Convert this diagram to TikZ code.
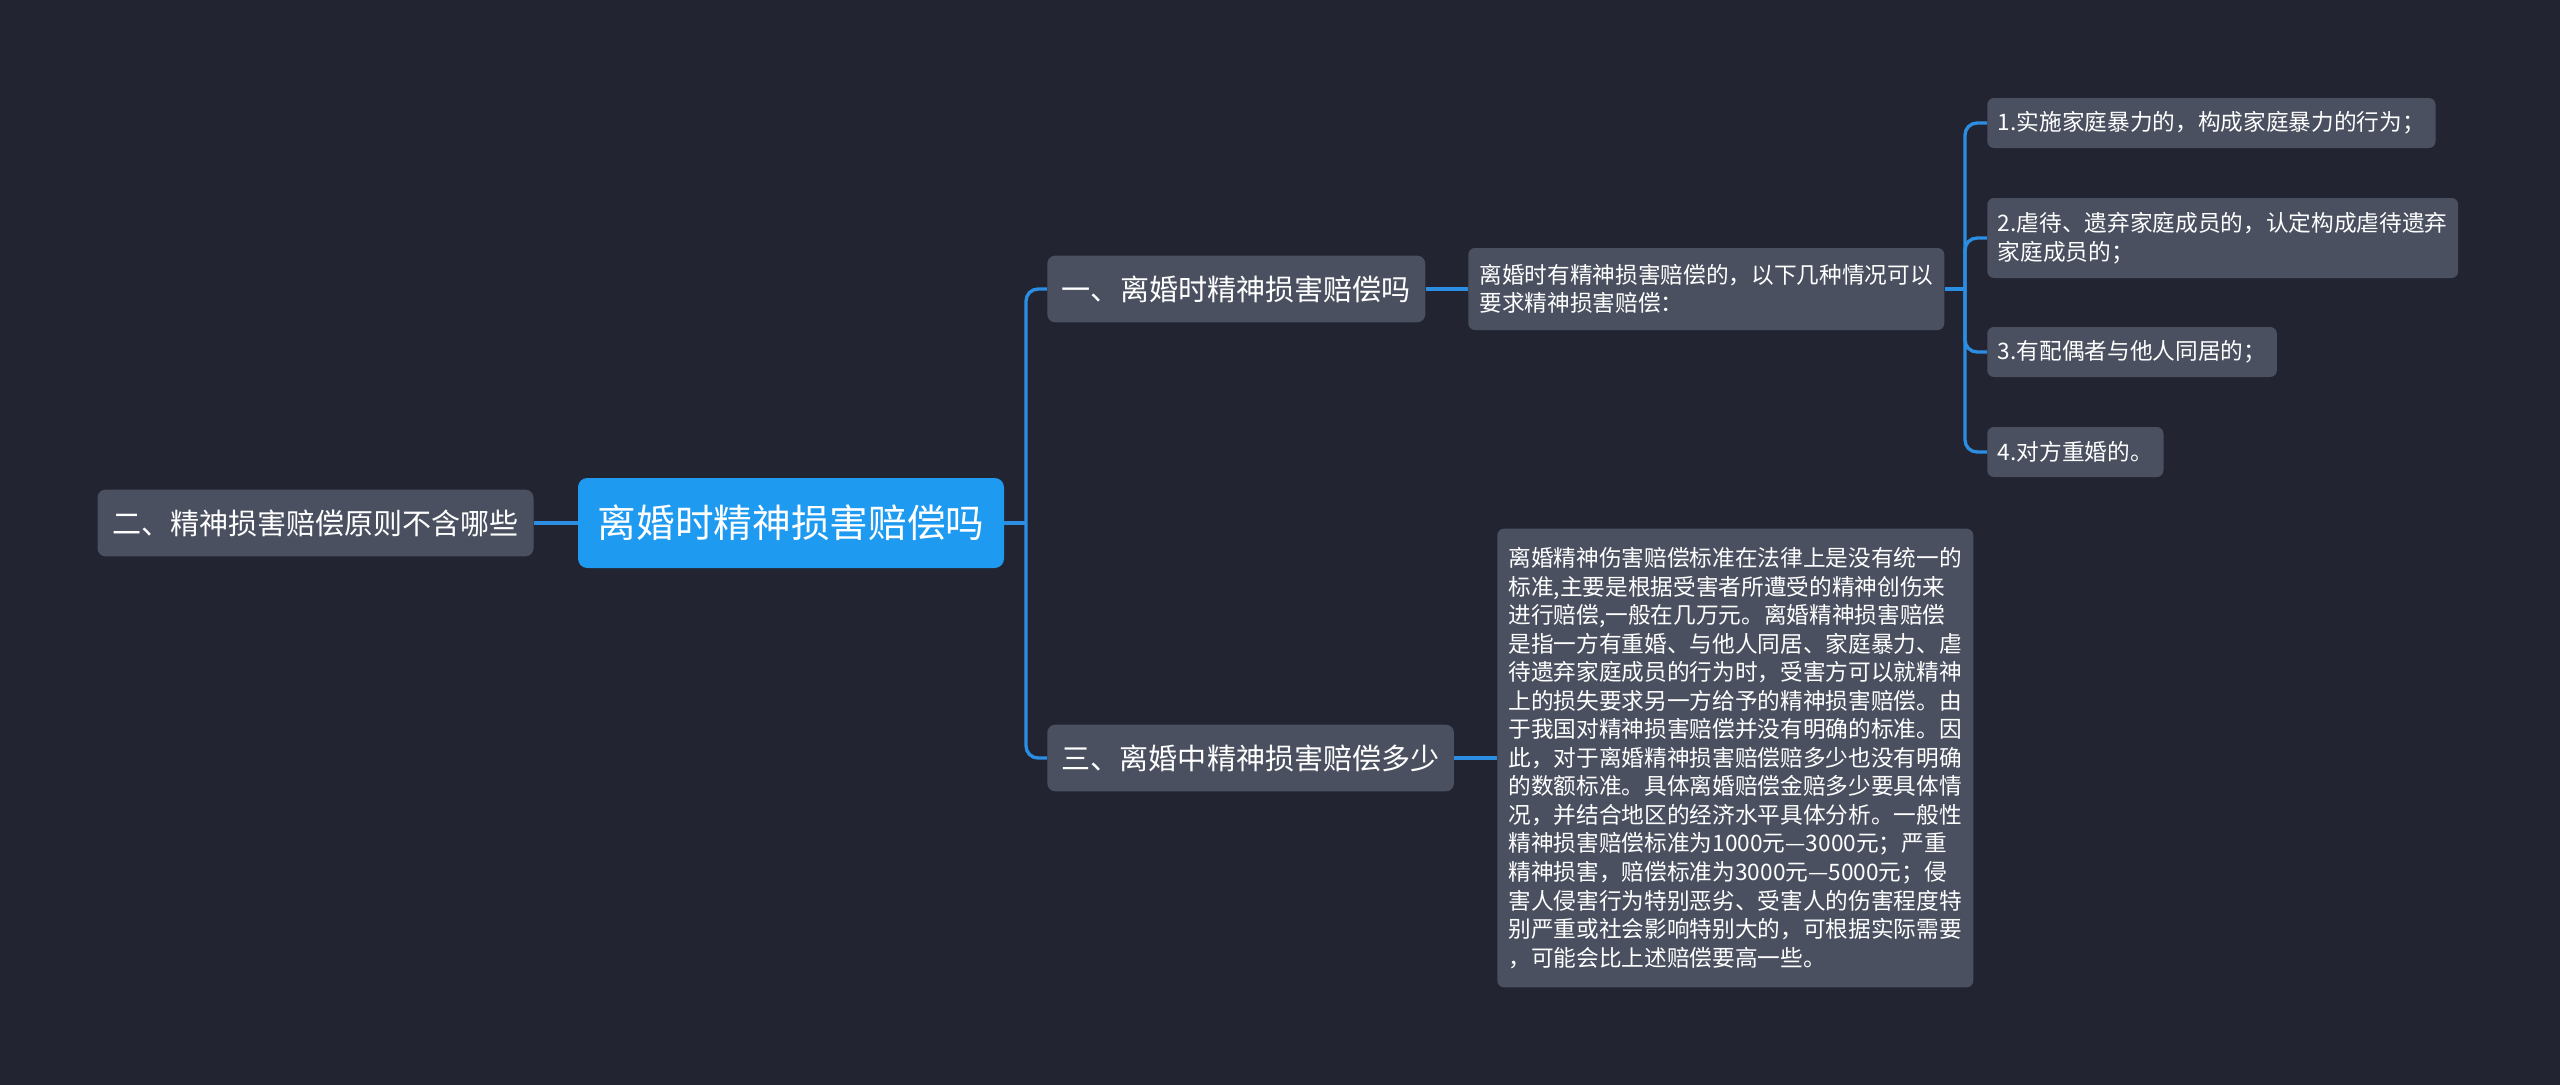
\documentclass[tikz,border=0pt]{standalone}
\usepackage{fontspec}
\setmainfont{Noto Sans CJK SC}
\usetikzlibrary{calc}

\definecolor{bgdark}{HTML}{222531}
\definecolor{boxgray}{HTML}{4A5060}
\definecolor{rootblue}{HTML}{1E9AF0}
\definecolor{linkblue}{HTML}{2B8EE2}

\tikzset{
	rootbox/.style={fill=rootblue, text=white, rounded corners=7pt, inner sep=0pt, font=\fontsize{29}{34}\selectfont},
	topic/.style={fill=boxgray, text=white, rounded corners=6pt, inner sep=0pt, minimum height=50pt, font=\fontsize{21.8}{26}\selectfont},
	leaf/.style={fill=boxgray, text=white, rounded corners=5pt, align=left, inner xsep=8pt, inner ysep=0pt, font=\fontsize{17}{21.4}\selectfont},
	link/.style={draw=linkblue, line width=2.5pt},
}

\begin{document}
\begin{tikzpicture}[x=0.75pt,y=-0.75pt]
			%%%%% START %%%%%
			
			\fill[bgdark] (0,0) rectangle (2560,1085);
			\useasboundingbox (0,0) rectangle (2560,1085);
			
			\node[rootbox, minimum width=319.5pt, minimum height=67.5pt] (root) at (791,523) {离婚时精神损害赔偿吗};
			
			\node[topic, minimum width=327pt] (left) at (315.5,523) {二、精神损害赔偿原则不含哪些};
			\node[topic, anchor=west, minimum width=283.5pt] (one) at (1047,289) {一、离婚时精神损害赔偿吗};
			\node[topic, anchor=west, minimum width=305pt] (three) at (1047,758) {三、离婚中精神损害赔偿多少};
			
			\node[leaf, anchor=west, minimum width=357pt, minimum height=61.5pt] (d1) at (1468,289) {离婚时有精神损害赔偿的，以下几种情况可以\\要求精神损害赔偿：};
			
			\node[leaf, anchor=west, minimum height=37.5pt] (item1) at (1987,123) {1.实施家庭暴力的，构成家庭暴力的行为；};
			\node[leaf, anchor=west, minimum height=60pt] (item2) at (1987,238) {2.虐待、遗弃家庭成员的，认定构成虐待遗弃\\家庭成员的；};
			\node[leaf, anchor=west, minimum height=37.5pt] (item3) at (1987,352) {3.有配偶者与他人同居的；};
			\node[leaf, anchor=west, minimum height=37.5pt] (item4) at (1987,452) {4.对方重婚的。};
			
			\node[leaf, anchor=west, minimum width=357pt, minimum height=344pt] (d3) at (1497,758) {离婚精神伤害赔偿标准在法律上是没有统一的\\标准,主要是根据受害者所遭受的精神创伤来\\进行赔偿,一般在几万元。离婚精神损害赔偿\\是指一方有重婚、与他人同居、家庭暴力、虐\\待遗弃家庭成员的行为时，受害方可以就精神\\上的损失要求另一方给予的精神损害赔偿。由\\于我国对精神损害赔偿并没有明确的标准。因\\此，对于离婚精神损害赔偿赔多少也没有明确\\的数额标准。具体离婚赔偿金赔多少要具体情\\况，并结合地区的经济水平具体分析。一般性\\精神损害赔偿标准为1000元—3000元；严重\\精神损害，赔偿标准为3000元—5000元；侵\\害人侵害行为特别恶劣、受害人的伤害程度特\\别严重或社会影响特别大的，可根据实际需要\\，可能会比上述赔偿要高一些。};
			
			% connectors
			\coordinate (jroot) at (1026,523);
			\coordinate (jd1) at (1965,289);
			
			\draw[link] (left.east) -- (root.west);
			\draw[link] (root.east) -- (jroot);
			\draw[link, rounded corners=9pt] (jroot) |- (one.west);
			\draw[link, rounded corners=9pt] (jroot) |- (three.west);
			\draw[link] (one.east) -- (d1.west);
			\draw[link] (three.east) -- (d3.west);
			\draw[link] (d1.east) -- (jd1);
			\foreach \i in {1,...,4}
				\draw[link, rounded corners=9pt] (jd1) |- (item\i.west);
			
			%%%%% END %%%%%
\end{tikzpicture}
\end{document}
